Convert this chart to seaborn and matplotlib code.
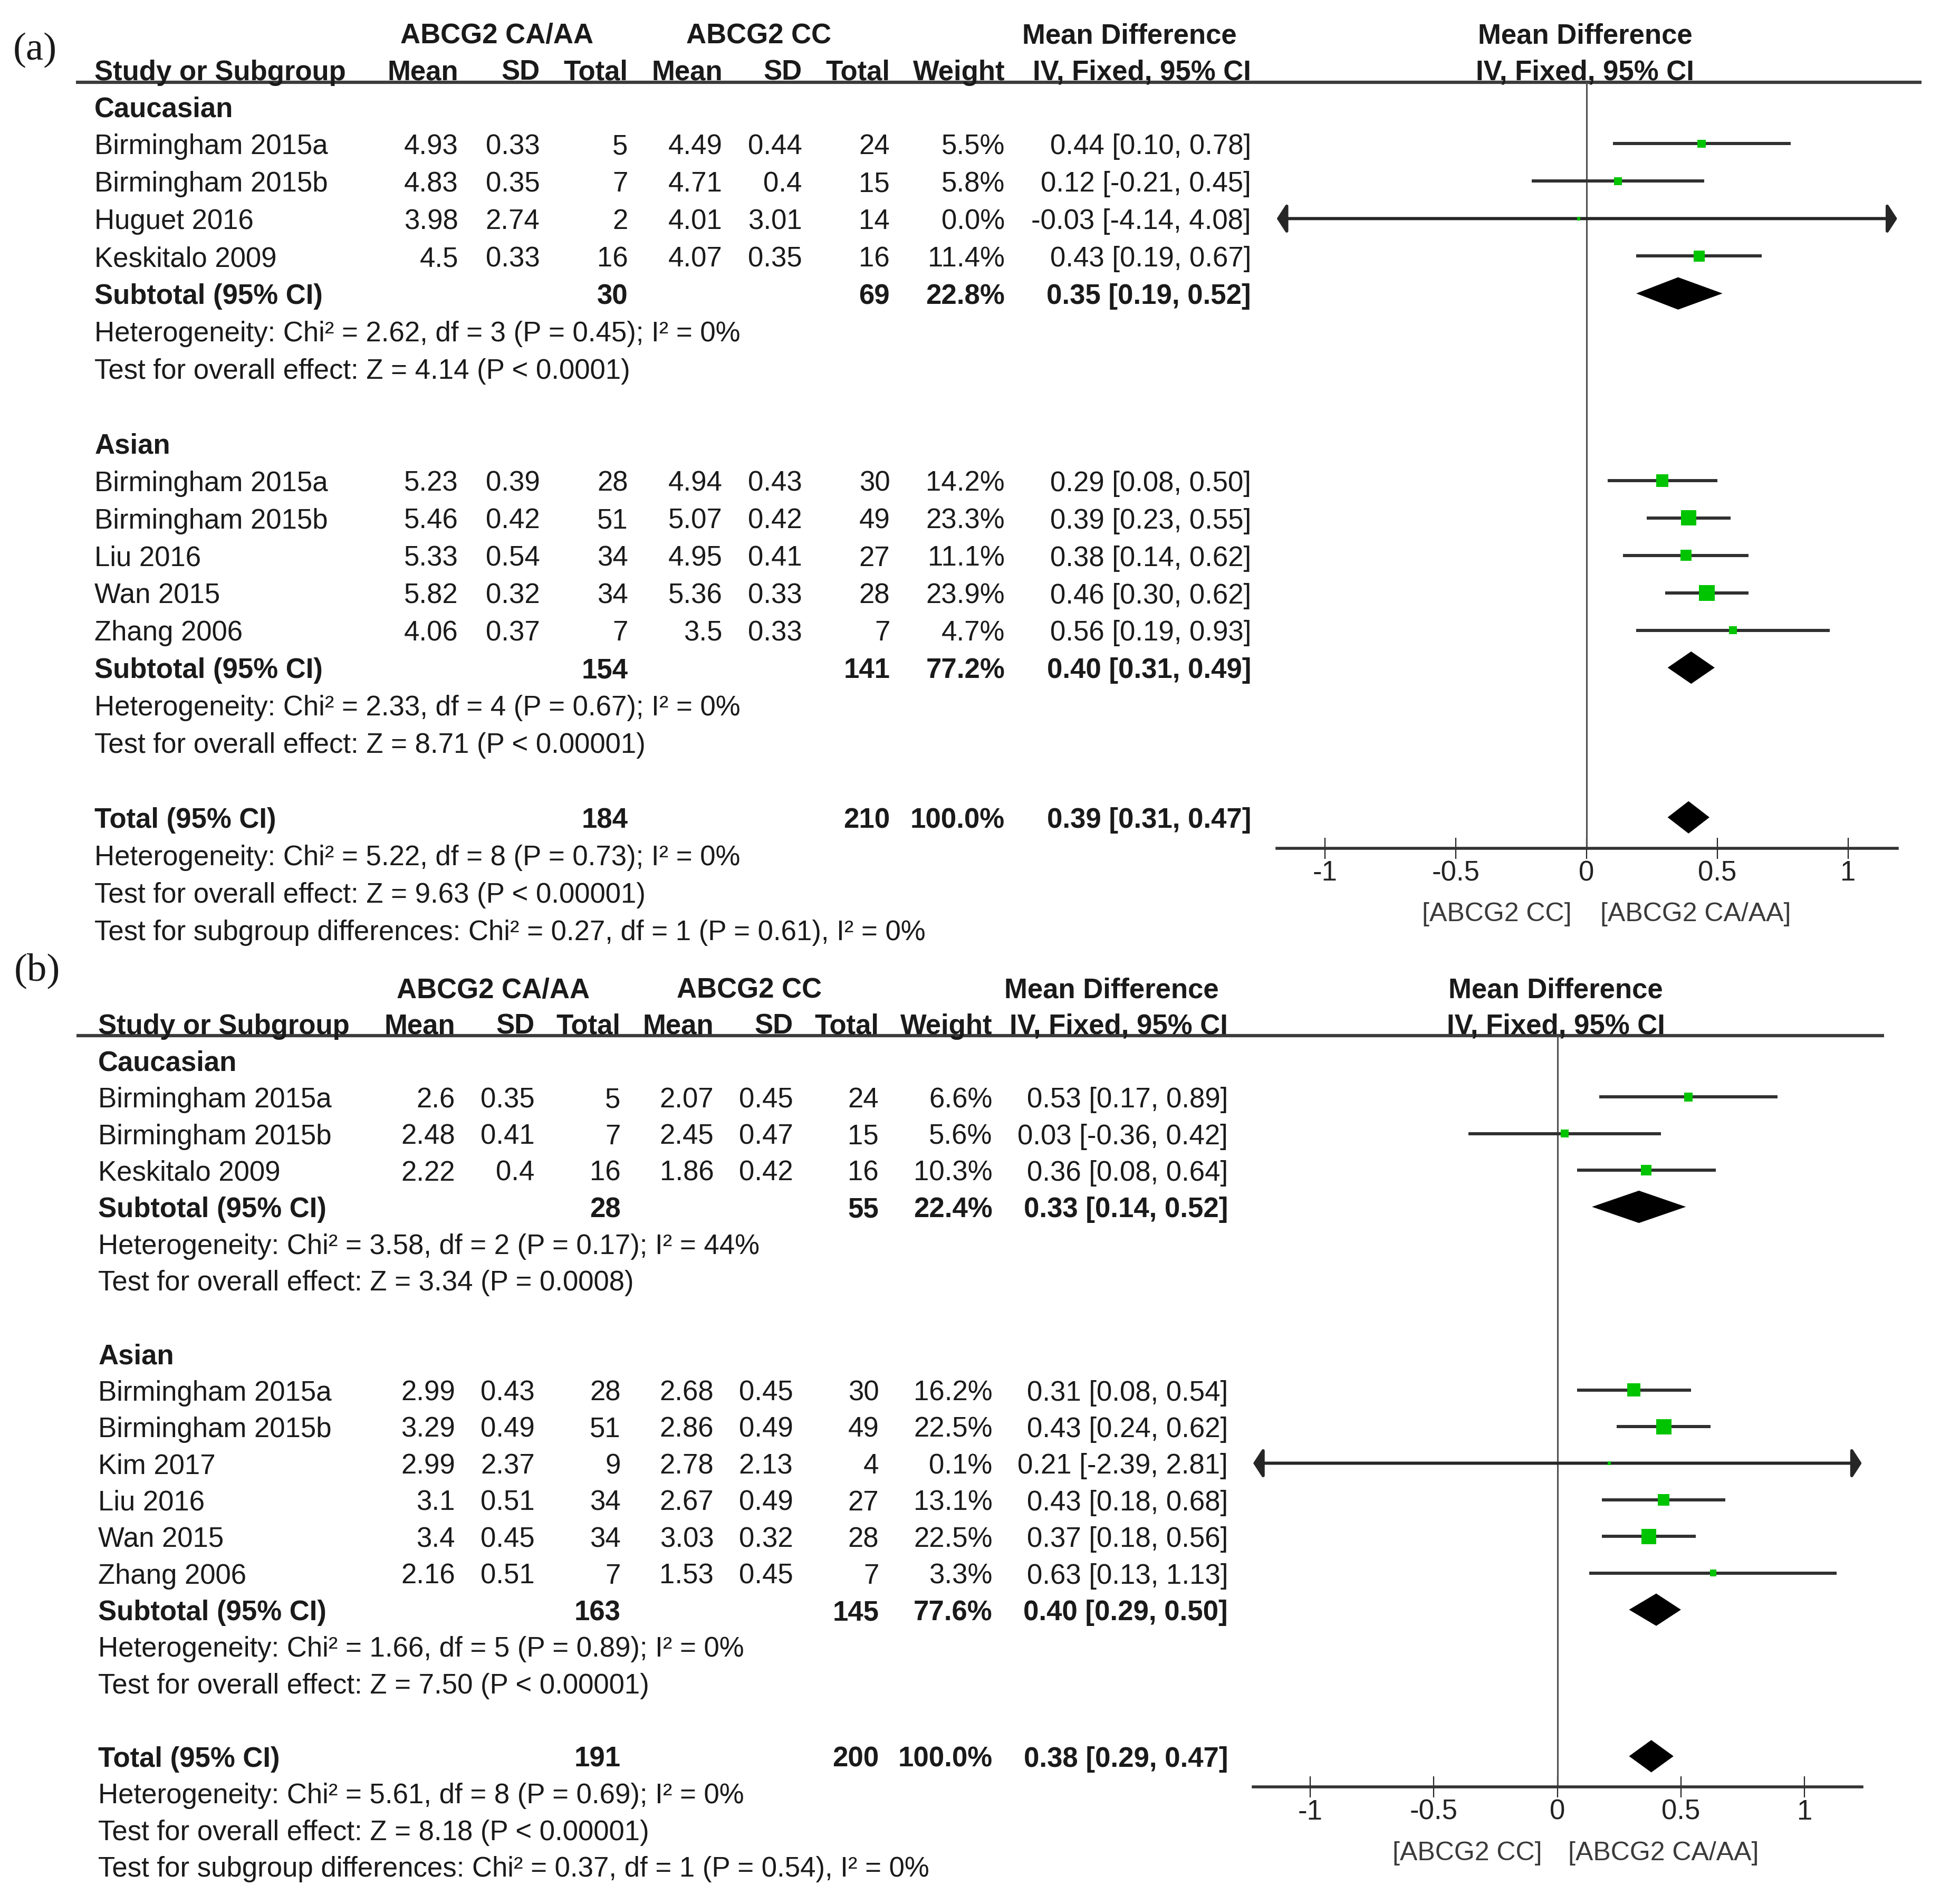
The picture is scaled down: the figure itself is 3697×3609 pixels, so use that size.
import numpy as np
import pandas as pd
import matplotlib
matplotlib.use("Agg")
import matplotlib.pyplot as plt
import seaborn as sns

# ---------------- data: panel (a) ----------------
a_group  = ["Caucasian"] * 4 + ["Asian"] * 5
a_study  = ["Birmingham 2015a", "Birmingham 2015b", "Huguet 2016", "Keskitalo 2009",
            "Birmingham 2015a", "Birmingham 2015b", "Liu 2016", "Wan 2015", "Zhang 2006"]
a_mean1  = [4.93, 4.83, 3.98, 4.5, 5.23, 5.46, 5.33, 5.82, 4.06]
a_sd1    = [0.33, 0.35, 2.74, 0.33, 0.39, 0.42, 0.54, 0.32, 0.37]
a_n1     = [5, 7, 2, 16, 28, 51, 34, 34, 7]
a_mean2  = [4.49, 4.71, 4.01, 4.07, 4.94, 5.07, 4.95, 5.36, 3.5]
a_sd2    = [0.44, 0.4, 3.01, 0.35, 0.43, 0.42, 0.41, 0.33, 0.33]
a_n2     = [24, 15, 14, 16, 30, 49, 27, 28, 7]
a_weight = [5.5, 5.8, 0.0, 11.4, 14.2, 23.3, 11.1, 23.9, 4.7]
a_md     = [0.44, 0.12, -0.03, 0.43, 0.29, 0.39, 0.38, 0.46, 0.56]
a_lo     = [0.10, -0.21, -4.14, 0.19, 0.08, 0.23, 0.14, 0.30, 0.19]
a_hi     = [0.78, 0.45, 4.08, 0.67, 0.50, 0.55, 0.62, 0.62, 0.93]
a_sub_n1 = [30, 154]
a_sub_n2 = [69, 141]
a_sub_w  = [22.8, 77.2]
a_sub_md = [0.35, 0.40]
a_sub_lo = [0.19, 0.31]
a_sub_hi = [0.52, 0.49]
a_sub_het = ["Heterogeneity: Chi² = 2.62, df = 3 (P = 0.45); I² = 0%",
             "Heterogeneity: Chi² = 2.33, df = 4 (P = 0.67); I² = 0%"]
a_sub_test = ["Test for overall effect: Z = 4.14 (P < 0.0001)",
              "Test for overall effect: Z = 8.71 (P < 0.00001)"]
a_tot = [184, 210, 100.0, 0.39, 0.31, 0.47]
a_tot_lines = ["Heterogeneity: Chi² = 5.22, df = 8 (P = 0.73); I² = 0%",
               "Test for overall effect: Z = 9.63 (P < 0.00001)",
               "Test for subgroup differences: Chi² = 0.27, df = 1 (P = 0.61), I² = 0%"]

# ---------------- data: panel (b) ----------------
b_group  = ["Caucasian"] * 3 + ["Asian"] * 6
b_study  = ["Birmingham 2015a", "Birmingham 2015b", "Keskitalo 2009",
            "Birmingham 2015a", "Birmingham 2015b", "Kim 2017", "Liu 2016", "Wan 2015", "Zhang 2006"]
b_mean1  = [2.6, 2.48, 2.22, 2.99, 3.29, 2.99, 3.1, 3.4, 2.16]
b_sd1    = [0.35, 0.41, 0.4, 0.43, 0.49, 2.37, 0.51, 0.45, 0.51]
b_n1     = [5, 7, 16, 28, 51, 9, 34, 34, 7]
b_mean2  = [2.07, 2.45, 1.86, 2.68, 2.86, 2.78, 2.67, 3.03, 1.53]
b_sd2    = [0.45, 0.47, 0.42, 0.45, 0.49, 2.13, 0.49, 0.32, 0.45]
b_n2     = [24, 15, 16, 30, 49, 4, 27, 28, 7]
b_weight = [6.6, 5.6, 10.3, 16.2, 22.5, 0.1, 13.1, 22.5, 3.3]
b_md     = [0.53, 0.03, 0.36, 0.31, 0.43, 0.21, 0.43, 0.37, 0.63]
b_lo     = [0.17, -0.36, 0.08, 0.08, 0.24, -2.39, 0.18, 0.18, 0.13]
b_hi     = [0.89, 0.42, 0.64, 0.54, 0.62, 2.81, 0.68, 0.56, 1.13]
b_sub_n1 = [28, 163]
b_sub_n2 = [55, 145]
b_sub_w  = [22.4, 77.6]
b_sub_md = [0.33, 0.40]
b_sub_lo = [0.14, 0.29]
b_sub_hi = [0.52, 0.50]
b_sub_het = ["Heterogeneity: Chi² = 3.58, df = 2 (P = 0.17); I² = 44%",
             "Heterogeneity: Chi² = 1.66, df = 5 (P = 0.89); I² = 0%"]
b_sub_test = ["Test for overall effect: Z = 3.34 (P = 0.0008)",
              "Test for overall effect: Z = 7.50 (P < 0.00001)"]
b_tot = [191, 200, 100.0, 0.38, 0.29, 0.47]
b_tot_lines = ["Heterogeneity: Chi² = 5.61, df = 8 (P = 0.69); I² = 0%",
               "Test for overall effect: Z = 8.18 (P < 0.00001)",
               "Test for subgroup differences: Chi² = 0.37, df = 1 (P = 0.54), I² = 0%"]

group_names = ["Caucasian", "Asian"]
col_head1 = ["ABCG2 CA/AA", "ABCG2 CC", "Mean Difference"]
col_head2 = ["Mean", "SD", "Total", "Mean", "SD", "Total", "Weight", "IV, Fixed, 95% CI"]
tick_vals = [-1, -0.5, 0, 0.5, 1]
tick_labels = ["-1", "-0.5", "0", "0.5", "1"]
favours = ["[ABCG2 CC]", "[ABCG2 CA/AA]"]

# ---------------- style ----------------
sns.set_theme(style="white")
plt.rcParams["font.family"] = ["Liberation Sans", "DejaVu Sans"]
FS = 38
TXT = "#1a1a1a"
YOFF = 2.5   # small downward shift of text baseline (layout units)

W, H = 1568.0, 1531.0   # layout units (scaled picture coordinates)
fig = plt.figure(figsize=(36.97, 36.09), dpi=100)
bg = fig.add_axes([0, 0, 1, 1])
bg.set_xlim(0, W)
bg.set_ylim(H, 0)
bg.axis("off")


def T(x, y, s, **kw):
    kw.setdefault("fontsize", FS)
    kw.setdefault("va", "center")
    kw.setdefault("color", TXT)
    bg.text(x, y + YOFF, s, **kw)


def rect(x0, x1, y0, y1):
    return [x0 / W, 1 - y1 / H, (x1 - x0) / W, (y1 - y0) / H]


LAYOUT = {
    "a": dict(label="(a)", label_xy=(28, 38), h1_y=26.5, h2_y=56,
              h1_x=[399.6, 610, 908], md2_x=1274.6, line_y=66, line_x=(61, 1545),
              study_x=76, cols=[368.5, 434, 505, 581, 645, 715.6, 808, 1006],
              y0=85.5, dy=30.09, ax_x=(1026.7, 1525.5), ax_y=(66, 682),
              xlim=(-1.185, 1.188), fav_y=732.6, fav_x=(1263.6, 1286.6)),
    "b": dict(label="(b)", label_xy=(30, 778), h1_y=794, h2_y=823,
              h1_x=[396.5, 602.7, 893.6], md2_x=1251, line_y=832.7, line_x=(61.5, 1515),
              study_x=79, cols=[366, 430, 499, 574, 637.6, 706.7, 798, 987.4],
              y0=852.6, dy=29.45, ax_x=(1007.7, 1497), ax_y=(832.7, 1437),
              xlim=(-1.23, 1.231), fav_y=1487.7, fav_x=(1240, 1261)),
}

PANELS = {
    "a": dict(group=a_group, study=a_study, m1=a_mean1, sd1=a_sd1, n1=a_n1,
              m2=a_mean2, sd2=a_sd2, n2=a_n2, w=a_weight, md=a_md, lo=a_lo, hi=a_hi,
              sn1=a_sub_n1, sn2=a_sub_n2, sw=a_sub_w, smd=a_sub_md, slo=a_sub_lo,
              shi=a_sub_hi, shet=a_sub_het, stest=a_sub_test, tot=a_tot, tlines=a_tot_lines),
    "b": dict(group=b_group, study=b_study, m1=b_mean1, sd1=b_sd1, n1=b_n1,
              m2=b_mean2, sd2=b_sd2, n2=b_n2, w=b_weight, md=b_md, lo=b_lo, hi=b_hi,
              sn1=b_sub_n1, sn2=b_sub_n2, sw=b_sub_w, smd=b_sub_md, slo=b_sub_lo,
              shi=b_sub_hi, shet=b_sub_het, stest=b_sub_test, tot=b_tot, tlines=b_tot_lines),
}


def ci_text(md, lo, hi):
    return f"{md:.2f} [{lo:.2f}, {hi:.2f}]"


def draw_panel(key):
    L = LAYOUT[key]
    P = PANELS[key]
    cols = L["cols"]

    # panel label
    T(*L["label_xy"], L["label"], family=["Liberation Serif"], fontsize=54, ha="center")
    # headers
    for name, cx in zip(col_head1, L["h1_x"]):
        T(cx, L["h1_y"], name, weight="bold", ha="center")
    T(L["md2_x"], L["h1_y"], col_head1[2], weight="bold", ha="center")
    T(L["study_x"], L["h2_y"], "Study or Subgroup", weight="bold", ha="left")
    for name, cx in zip(col_head2, cols):
        T(cx, L["h2_y"], name, weight="bold", ha="right")
    T(L["md2_x"], L["h2_y"], col_head2[-1], weight="bold", ha="center")
    bg.plot(L["line_x"], [L["line_y"], L["line_y"]], color="#3c3c3c", lw=4.5,
            solid_capstyle="butt")

    # forest axes
    ax = fig.add_axes(rect(L["ax_x"][0], L["ax_x"][1], L["ax_y"][0], L["ax_y"][1]))
    ax.patch.set_alpha(0)
    xmin, xmax = L["xlim"]

    def ry(i):
        return L["y0"] + i * L["dy"]

    study_rows = []
    diamond_rows = []
    row = 0
    for g, gname in enumerate(group_names):
        idx = [i for i, gg in enumerate(P["group"]) if gg == gname]
        T(L["study_x"], ry(row), gname, weight="bold", ha="left")
        row += 1
        for i in idx:
            y = ry(row)
            vals = [f"{P['m1'][i]:g}", f"{P['sd1'][i]:g}", f"{P['n1'][i]}",
                    f"{P['m2'][i]:g}", f"{P['sd2'][i]:g}", f"{P['n2'][i]}",
                    f"{P['w'][i]:.1f}%", ci_text(P['md'][i], P['lo'][i], P['hi'][i])]
            T(L["study_x"], y, P["study"][i], ha="left")
            for v, cx in zip(vals, cols):
                T(cx, y, v, ha="right")
            study_rows.append(dict(y=y, md=P["md"][i], lo=P["lo"][i], hi=P["hi"][i], w=P["w"][i]))
            row += 1
        y = ry(row)
        T(L["study_x"], y, "Subtotal (95% CI)", weight="bold", ha="left")
        for v, c in zip([f"{P['sn1'][g]}", f"{P['sn2'][g]}", f"{P['sw'][g]:.1f}%",
                         ci_text(P['smd'][g], P['slo'][g], P['shi'][g])], [2, 5, 6, 7]):
            T(cols[c], y, v, weight="bold", ha="right")
        diamond_rows.append((y, P["smd"][g], P["slo"][g], P["shi"][g]))
        row += 1
        T(L["study_x"], ry(row), P["shet"][g], ha="left")
        row += 1
        T(L["study_x"], ry(row), P["stest"][g], ha="left")
        row += 2
    # overall
    y = ry(row)
    t = P["tot"]
    T(L["study_x"], y, "Total (95% CI)", weight="bold", ha="left")
    for v, c in zip([f"{t[0]}", f"{t[1]}", f"{t[2]:.1f}%", ci_text(t[3], t[4], t[5])], [2, 5, 6, 7]):
        T(cols[c], y, v, weight="bold", ha="right")
    diamond_rows.append((y, t[3], t[4], t[5]))
    row += 1
    for line in P["tlines"]:
        T(L["study_x"], ry(row), line, ha="left")
        row += 1

    # zero line
    ax.axvline(0, color="#505050", lw=2.2, zorder=1)

    # confidence intervals
    for r in study_rows:
        lo_c, hi_c = max(r["lo"], xmin), min(r["hi"], xmax)
        left_arrow, right_arrow = r["lo"] < xmin, r["hi"] > xmax
        if left_arrow or right_arrow:
            style = ("<|-|>" if (left_arrow and right_arrow)
                     else ("-|>" if right_arrow else "<|-"))
            ax.annotate("", xy=(hi_c, r["y"]), xytext=(lo_c, r["y"]),
                        arrowprops=dict(arrowstyle=f"{style},head_length=0.55,head_width=0.85",
                                        color="#262626", lw=4.3, shrinkA=0, shrinkB=0,
                                        mutation_scale=20))
        else:
            ax.hlines(r["y"], lo_c, hi_c, color="#303030", lw=4.3, zorder=2)

    df = pd.DataFrame(study_rows)
    sns.scatterplot(data=df, x="md", y="y", size="w", sizes=(22, 480), size_norm=(0, 25),
                    marker="s", color="#00c400", edgecolor="none", linewidth=0,
                    legend=False, ax=ax, zorder=3)

    # diamonds (pooled estimates)
    hh = 13
    for (y, md, lo, hi) in diamond_rows:
        ax.fill([lo, md, hi, md], [y, y - hh, y, y + hh], color="black", zorder=3, lw=0)

    ax.set_xlim(xmin, xmax)
    ax.set_ylim(L["ax_y"][1], L["ax_y"][0])
    ax.set_xlabel("")
    ax.set_ylabel("")
    ax.set_yticks([])
    ax.set_xticks(tick_vals)
    ax.set_xticklabels(tick_labels)
    for s in ["top", "left", "right"]:
        ax.spines[s].set_visible(False)
    ax.spines["bottom"].set_color("#333333")
    ax.spines["bottom"].set_linewidth(4)
    ax.tick_params(axis="x", direction="inout", length=29.5, width=1.6, colors="#222222",
                   labelsize=FS, pad=1.5, bottom=True)
    ax.grid(False)

    # favours labels
    T(L["fav_x"][0], L["fav_y"], favours[0], fontsize=36, ha="right", color="#3a3a3a")
    T(L["fav_x"][1], L["fav_y"], favours[1], fontsize=36, ha="left", color="#3a3a3a")


draw_panel("a")
draw_panel("b")

fig.savefig("out.png", dpi=100, facecolor="white")
